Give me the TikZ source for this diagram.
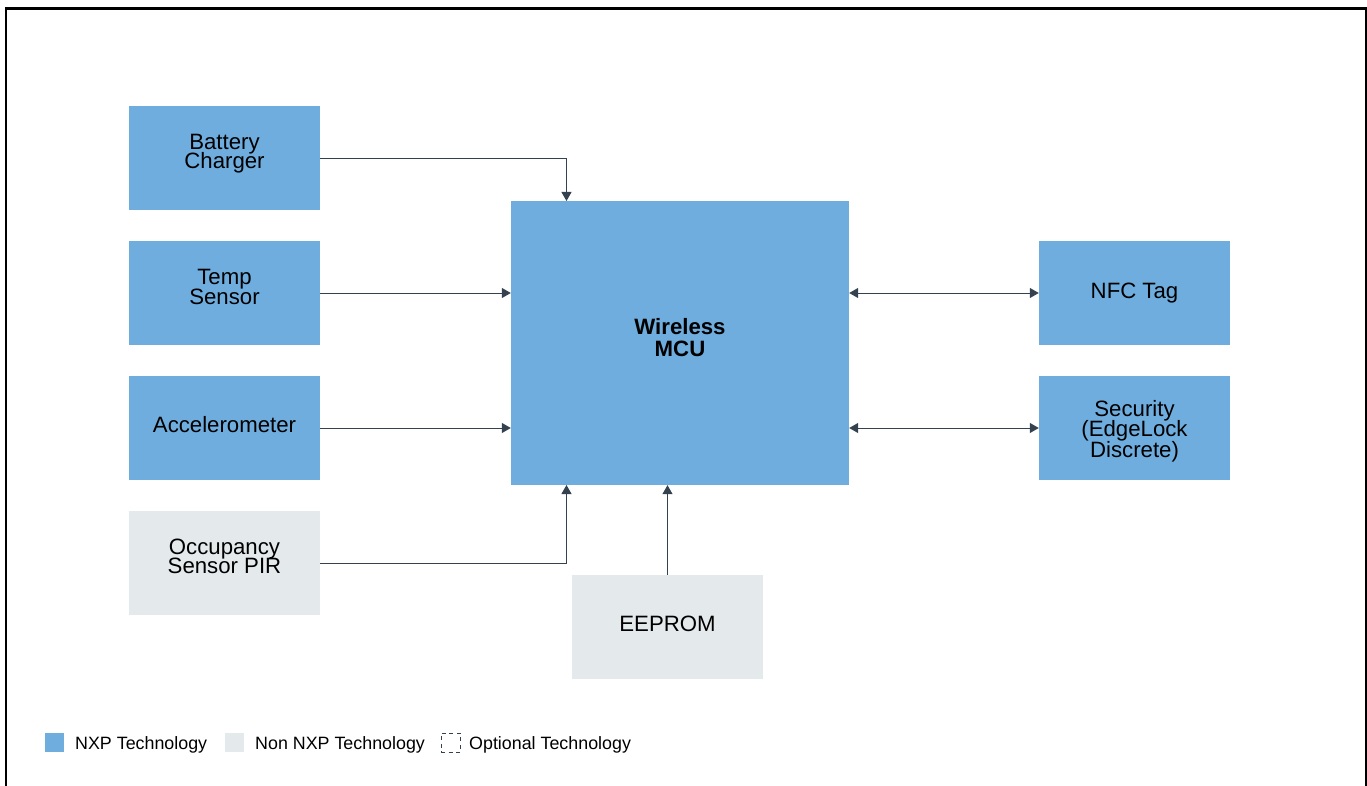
\documentclass[tikz,border=0pt]{standalone}
\usepackage{fontspec}
\setmainfont{Liberation Sans}
\usetikzlibrary{arrows.meta}
\definecolor{nxp}{HTML}{6FADDE}
\definecolor{nonnxp}{HTML}{E4E9EC}
\definecolor{conn}{HTML}{34424F}
\newcommand\liftlines[2]{\smash{\raisebox{#1}{\parbox{190pt}{\centering\lineskiplimit=-100pt\relax #2}}}}
\tikzset{
  x=1pt,y=-1pt,
  block/.style={draw=none,minimum width=191pt,minimum height=104pt,inner sep=0pt,align=center,text=black,
    font=\fontsize{22.2}{19.7}\selectfont},
  nxpblock/.style={block,fill=nxp},
  otherblock/.style={block,fill=nonnxp},
  conline/.style={draw=conn,line width=1pt,-{Triangle[length=9pt,width=10pt]}},
  conboth/.style={draw=conn,line width=1pt,{Triangle[length=9pt,width=10pt]}-{Triangle[length=9pt,width=10pt]}},
  legendtext/.style={anchor=west,inner sep=0pt,text=black,font=\fontsize{17.85}{20}\selectfont},
  legendkey/.style={minimum width=19pt,minimum height=19pt,inner sep=0pt,draw=none},
}
\begin{document}
\begin{tikzpicture}
\useasboundingbox (0,0) rectangle (1367,786);
\fill[white] (0,0) rectangle (1367,786);
\draw[black,line width=2.4pt] (6,786) -- (6,8.5) -- (1366,8.5) -- (1366,786);

\node[nxpblock] (bat) at (224.5,158) {\liftlines{-1pt}{Battery\\Charger}};
\node[nxpblock] (temp) at (224.5,293) {\liftlines{1pt}{Temp\\Sensor}};
\node[nxpblock] (acc) at (224.5,428) {\liftlines{-2pt}{Accelerometer}};
\node[otherblock] (pir) at (224.5,563) {\liftlines{1.5pt}{Occupancy\\Sensor PIR}};
\node[nxpblock,minimum width=338pt,minimum height=284pt,font=\fontsize{22.2}{22}\selectfont\bfseries] (mcu) at (680,343) {\liftlines{0pt}{Wireless\\MCU}};
\node[nxpblock] (nfc) at (1134.5,293) {\liftlines{-5pt}{NFC Tag}};
\node[nxpblock,font=\fontsize{22.2}{20.5}\selectfont] (sec) at (1134.5,428) {\liftlines{-8pt}{Security\\(EdgeLock\\Discrete)}};
\node[otherblock] (eep) at (667.5,627) {\liftlines{-2pt}{EEPROM}};

\coordinate (batOut) at (320,158.5);
\coordinate (mcuTL) at (566.5,201);
\coordinate (mcuBL) at (566.5,485);
\draw[conline] (batOut) -| (mcuTL);
\draw[conline] (temp.east) -- (mcu.west |- temp.east);
\draw[conline] (acc.east) -- (mcu.west |- acc.east);
\draw[conline] (pir.east) -| (mcuBL);
\draw[conline] (eep.north) -- (eep.north |- mcu.south);
\draw[conboth] (mcu.east |- nfc.west) -- (nfc.west);
\draw[conboth] (mcu.east |- sec.west) -- (sec.west);

\node[legendkey,fill=nxp] (k1) at (54.5,742.5) {};
\node[legendtext] (t1) at (75,745) {NXP Technology};
\node[legendkey,fill=nonnxp] (k2) at (234.5,742.5) {};
\node[legendtext] (t2) at (255,745) {Non NXP Technology};
\node[legendkey,draw=conn,line width=0.9pt,dash pattern=on 4pt off 3.5pt] (k3) at (450.5,742.5) {};
\node[legendtext] (t3) at (469,745) {Optional Technology};
\end{tikzpicture}
\end{document}
